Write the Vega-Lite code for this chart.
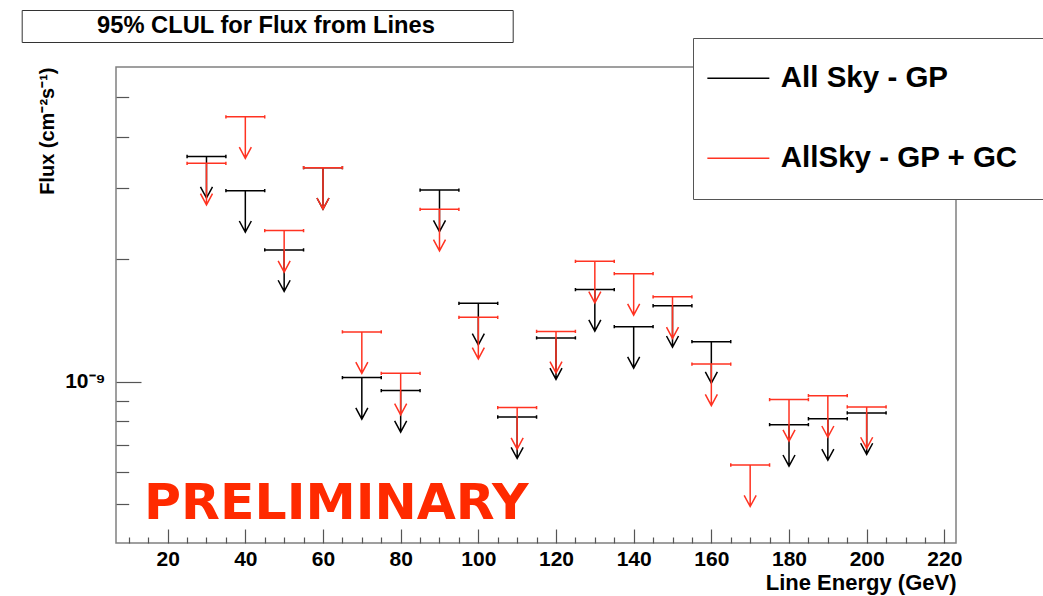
{
  "$schema": "https://vega.github.io/schema/vega-lite/v6.json",
  "width": 840,
  "height": 476,
  "autosize": "none",
  "padding": {"left": 116, "top": 67, "right": 87, "bottom": 53},
  "background": "#ffffff",
  "config": {
    "view": {"stroke": "#808080", "strokeWidth": 1.5},
    "font": "Liberation Sans"
  },
  "datasets": {
    "limits": [
      {"energy": 30, "flux": 3.58e-9, "sample": "All Sky - GP"},
      {"energy": 40, "flux": 2.95e-9, "sample": "All Sky - GP"},
      {"energy": 50, "flux": 2.11e-9, "sample": "All Sky - GP"},
      {"energy": 60, "flux": 3.36e-9, "sample": "All Sky - GP"},
      {"energy": 70, "flux": 1.025e-9, "sample": "All Sky - GP"},
      {"energy": 80, "flux": 0.952e-9, "sample": "All Sky - GP"},
      {"energy": 90, "flux": 2.96e-9, "sample": "All Sky - GP"},
      {"energy": 100, "flux": 1.56e-9, "sample": "All Sky - GP"},
      {"energy": 110, "flux": 0.82e-9, "sample": "All Sky - GP"},
      {"energy": 120, "flux": 1.283e-9, "sample": "All Sky - GP"},
      {"energy": 130, "flux": 1.686e-9, "sample": "All Sky - GP"},
      {"energy": 140, "flux": 1.367e-9, "sample": "All Sky - GP"},
      {"energy": 150, "flux": 1.539e-9, "sample": "All Sky - GP"},
      {"energy": 160, "flux": 1.256e-9, "sample": "All Sky - GP"},
      {"energy": 180, "flux": 0.785e-9, "sample": "All Sky - GP"},
      {"energy": 190, "flux": 0.812e-9, "sample": "All Sky - GP"},
      {"energy": 200, "flux": 0.839e-9, "sample": "All Sky - GP"},
      {"energy": 30, "flux": 3.444e-9, "sample": "AllSky - GP + GC"},
      {"energy": 40, "flux": 4.48e-9, "sample": "AllSky - GP + GC"},
      {"energy": 50, "flux": 2.354e-9, "sample": "AllSky - GP + GC"},
      {"energy": 60, "flux": 3.36e-9, "sample": "AllSky - GP + GC"},
      {"energy": 70, "flux": 1.327e-9, "sample": "AllSky - GP + GC"},
      {"energy": 80, "flux": 1.05e-9, "sample": "AllSky - GP + GC"},
      {"energy": 90, "flux": 2.655e-9, "sample": "AllSky - GP + GC"},
      {"energy": 100, "flux": 1.441e-9, "sample": "AllSky - GP + GC"},
      {"energy": 110, "flux": 0.865e-9, "sample": "AllSky - GP + GC"},
      {"energy": 120, "flux": 1.331e-9, "sample": "AllSky - GP + GC"},
      {"energy": 130, "flux": 1.978e-9, "sample": "AllSky - GP + GC"},
      {"energy": 140, "flux": 1.845e-9, "sample": "AllSky - GP + GC"},
      {"energy": 150, "flux": 1.618e-9, "sample": "AllSky - GP + GC"},
      {"energy": 160, "flux": 1.106e-9, "sample": "AllSky - GP + GC"},
      {"energy": 170, "flux": 0.625e-9, "sample": "AllSky - GP + GC"},
      {"energy": 180, "flux": 0.905e-9, "sample": "AllSky - GP + GC"},
      {"energy": 190, "flux": 0.925e-9, "sample": "AllSky - GP + GC"},
      {"energy": 200, "flux": 0.868e-9, "sample": "AllSky - GP + GC"}
    ],
    "caption": [
      {"caption": "95% CLUL for Flux from Lines"}
    ],
    "stamp": [
      {"note": "PRELIMINARY"}
    ]
  },
  "layer": [
    {
      "data": {"name": "limits"},
      "mark": {
        "type": "point",
        "shape": "M-0.935,-0.08L-0.935,0.08M-0.935,0L0.935,0M0.935,-0.08L0.935,0.08M0,0L0,2M-0.29,1.46L0,2L0.29,1.46",
        "size": 1722,
        "filled": false,
        "opacity": 1,
        "strokeWidth": 1.5
      },
      "encoding": {
        "x": {
          "field": "energy",
          "type": "quantitative",
          "scale": {"domain": [6.7, 223], "nice": false, "zero": false},
          "axis": {
            "orient": "bottom",
            "values": [20, 40, 60, 80, 100, 120, 140, 160, 180, 200, 220],
            "ticks": false,
            "domain": false,
            "grid": false,
            "labelFlush": false,
            "labelFont": "Liberation Sans",
            "labelFontWeight": "bold",
            "labelFontSize": 21,
            "labelColor": "#000000",
            "labelPadding": 5,
            "title": "Line Energy (GeV)",
            "titleFont": "Liberation Sans",
            "titleFontWeight": "bold",
            "titleFontSize": 22,
            "titleColor": "#000000",
            "titleAnchor": "end",
            "titlePadding": 3
          }
        },
        "y": {
          "field": "flux",
          "type": "quantitative",
          "scale": {"type": "log", "domain": [4.02e-10, 5.94e-9], "nice": false},
          "axis": {
            "orient": "left",
            "values": [1e-9],
            "ticks": false,
            "domain": false,
            "grid": false,
            "labelExpr": "'10⁻⁹'",
            "labelFont": "Liberation Sans",
            "labelFontWeight": "bold",
            "labelFontSize": 21,
            "labelColor": "#000000",
            "labelPadding": 11,
            "title": "Flux (cm⁻²s⁻¹)",
            "titleFont": "Liberation Sans",
            "titleFontWeight": "bold",
            "titleFontSize": 20,
            "titleColor": "#000000",
            "titleAnchor": "end",
            "titlePadding": 7
          }
        },
        "color": {
          "field": "sample",
          "type": "nominal",
          "scale": {"domain": ["All Sky - GP", "AllSky - GP + GC"], "range": ["#000000", "#ff3322"]},
          "legend": {
            "orient": "none",
            "legendX": 577,
            "legendY": -29,
            "title": null,
            "symbolType": "M-3,0L3,0",
            "symbolSize": 427,
            "symbolStrokeWidth": 1.5,
            "symbolOffset": 5,
            "labelFont": "Liberation Sans",
            "labelFontWeight": "bold",
            "labelFontSize": 29.5,
            "labelColor": "#000000",
            "labelLimit": 1000,
            "labelOffset": 27.7,
            "padding": 25.6,
            "rowPadding": 49,
            "strokeColor": "#555555",
            "fillColor": "#ffffff"
          }
        }
      }
    },
    {
      "data": {"name": "stamp"},
      "mark": {"type": "text", "align": "left", "baseline": "alphabetic", "font": "DejaVu Sans", "fontWeight": "bold", "fontSize": 50.5, "color": "#ff2a00"},
      "encoding": {
        "x": {
          "datum": 13.93,
          "type": "quantitative",
          "axis": {
            "orient": "bottom",
            "values": [20, 40, 60, 80, 100, 120, 140, 160, 180, 200, 220],
            "labels": false,
            "domain": false,
            "grid": false,
            "ticks": true,
            "tickSize": -14,
            "tickColor": "#555555",
            "tickWidth": 1.2,
            "title": null
          }
        },
        "y": {
          "datum": 4.6e-10,
          "type": "quantitative",
          "axis": {
            "orient": "left",
            "values": [1e-9],
            "labels": false,
            "domain": false,
            "grid": false,
            "ticks": true,
            "tickSize": -25,
            "tickColor": "#555555",
            "tickWidth": 1.2,
            "title": null
          }
        },
        "text": {"field": "note", "type": "nominal"}
      }
    },
    {
      "data": {"name": "caption"},
      "mark": {"type": "point", "opacity": 0},
      "encoding": {
        "x": {
          "datum": 100,
          "type": "quantitative",
          "axis": {
            "orient": "bottom",
            "values": [10, 15, 25, 30, 35, 45, 50, 55, 65, 70, 75, 85, 90, 95, 105, 110, 115, 125, 130, 135, 145, 150, 155, 165, 170, 175, 185, 190, 195, 205, 210, 215],
            "labels": false,
            "domain": false,
            "grid": false,
            "ticks": true,
            "tickSize": -6,
            "tickColor": "#555555",
            "tickWidth": 1.2,
            "title": null
          }
        },
        "y": {
          "datum": 1e-9,
          "type": "quantitative",
          "axis": {
            "orient": "left",
            "values": [5e-10, 6e-10, 7e-10, 8e-10, 9e-10, 2e-9, 3e-9, 4e-9, 5e-9],
            "labels": false,
            "domain": false,
            "grid": false,
            "ticks": true,
            "tickSize": -12.7,
            "tickColor": "#555555",
            "tickWidth": 1.2,
            "title": null
          }
        },
        "shape": {
          "field": "caption",
          "type": "nominal",
          "legend": {
            "orient": "none",
            "legendX": -94.3,
            "legendY": -57,
            "title": null,
            "symbolType": "square",
            "symbolOpacity": 0,
            "symbolSize": 100,
            "symbolOffset": 466,
            "labelFont": "Liberation Sans",
            "labelFontWeight": "bold",
            "labelFontSize": 23.7,
            "labelColor": "#000000",
            "labelLimit": 1000,
            "labelOffset": -418.3,
            "padding": 4,
            "strokeColor": "#333333",
            "fillColor": "#ffffff"
          }
        }
      }
    }
  ],
  "resolve": {"axis": {"x": "independent", "y": "independent"}}
}
